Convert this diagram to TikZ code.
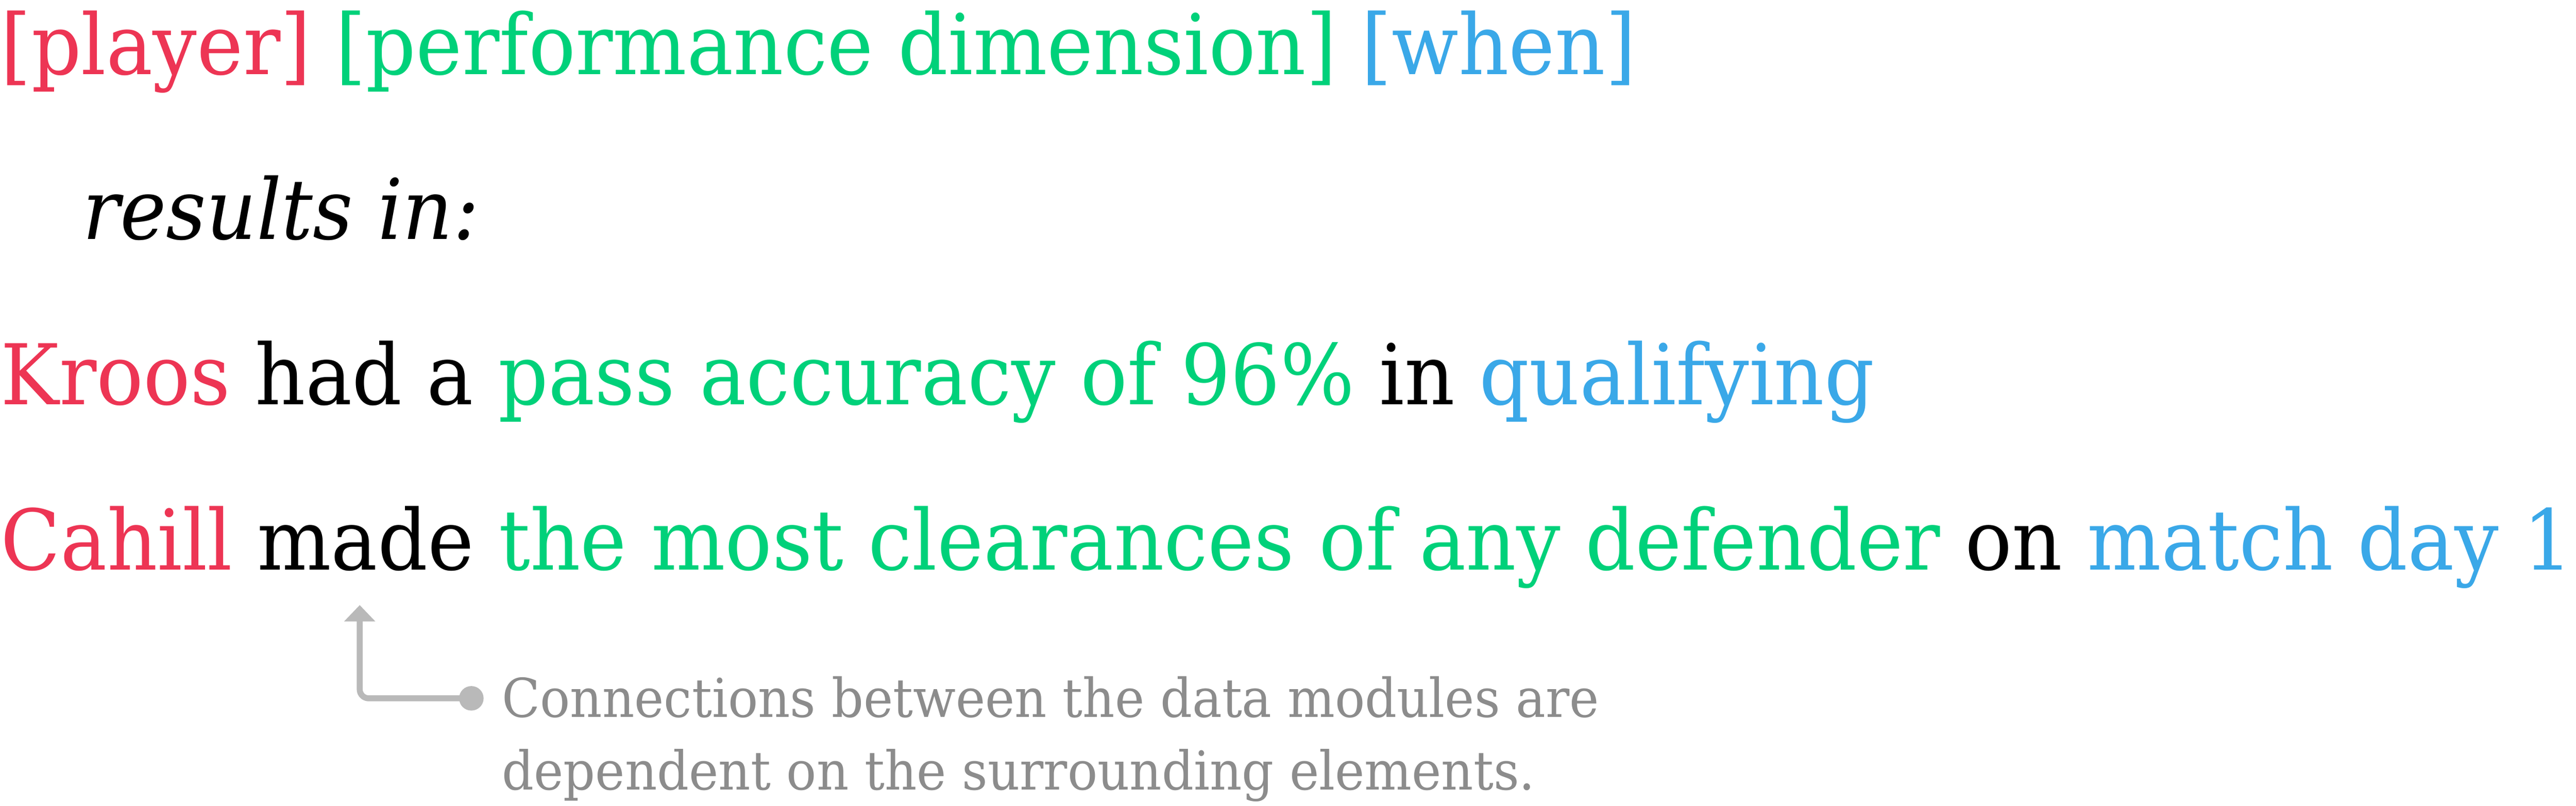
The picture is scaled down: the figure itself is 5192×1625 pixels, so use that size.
\documentclass[tikz,border=0pt]{standalone}
\usepackage{fontspec}
\setmainfont{DejaVu Serif}[FakeStretch=0.931]
\usetikzlibrary{arrows.meta}
\definecolor{playerred}{RGB}{237,53,84}
\definecolor{dimgreen}{RGB}{0,209,122}
\definecolor{whenblue}{RGB}{58,168,232}
\definecolor{notegray}{RGB}{140,140,140}
\definecolor{linkgray}{RGB}{185,185,185}
\newcommand{\pl}[1]{\textcolor{playerred}{#1}}
\newcommand{\dm}[1]{\textcolor{dimgreen}{#1}}
\newcommand{\wh}[1]{\textcolor{whenblue}{#1}}
\begin{document}
\begin{tikzpicture}[x=0.1pt, y=-0.1pt, line join=round,
	sentence/.style={anchor=base west, inner sep=0pt, font=\fontsize{16.9}{20}\selectfont},
	note/.style={anchor=base west, inner sep=0pt, text=notegray, font=\fontsize{10.8}{14.6}\selectfont}]
	\useasboundingbox (0,0) rectangle (5192,1625);
	% template and examples
	\node[sentence] (tmpl) at (0,150) {\pl{[player]} \dm{[performance dimension]} \wh{[when]}};
	\node[sentence] (res) at (165,482) {\itshape results in:};
	\node[sentence] (kroos) at (0,816) {\pl{Kroos} had a \dm{pass accuracy of 96\%} in \wh{qualifying}};
	\node[sentence] (cahill) at (0,1149) {\pl{Cahill} made \dm{the most clearances of any defender} on \wh{match day 1}};
	% annotation
	\node[note] (note1) at (1010,1446) {Connections between the data modules are};
	\node[note] (note2) at (1010,1592) {dependent on the surrounding elements.};
	\coordinate (dot) at (950,1408);
	\coordinate (made) at (725,1220);
	\draw[linkgray, line width=1.2pt, rounded corners=1.8pt, -{Triangle[width=6.1pt,length=3.3pt]}] (dot) -| (made);
	\fill[linkgray] (dot) circle (2.47pt);
\end{tikzpicture}
\end{document}
